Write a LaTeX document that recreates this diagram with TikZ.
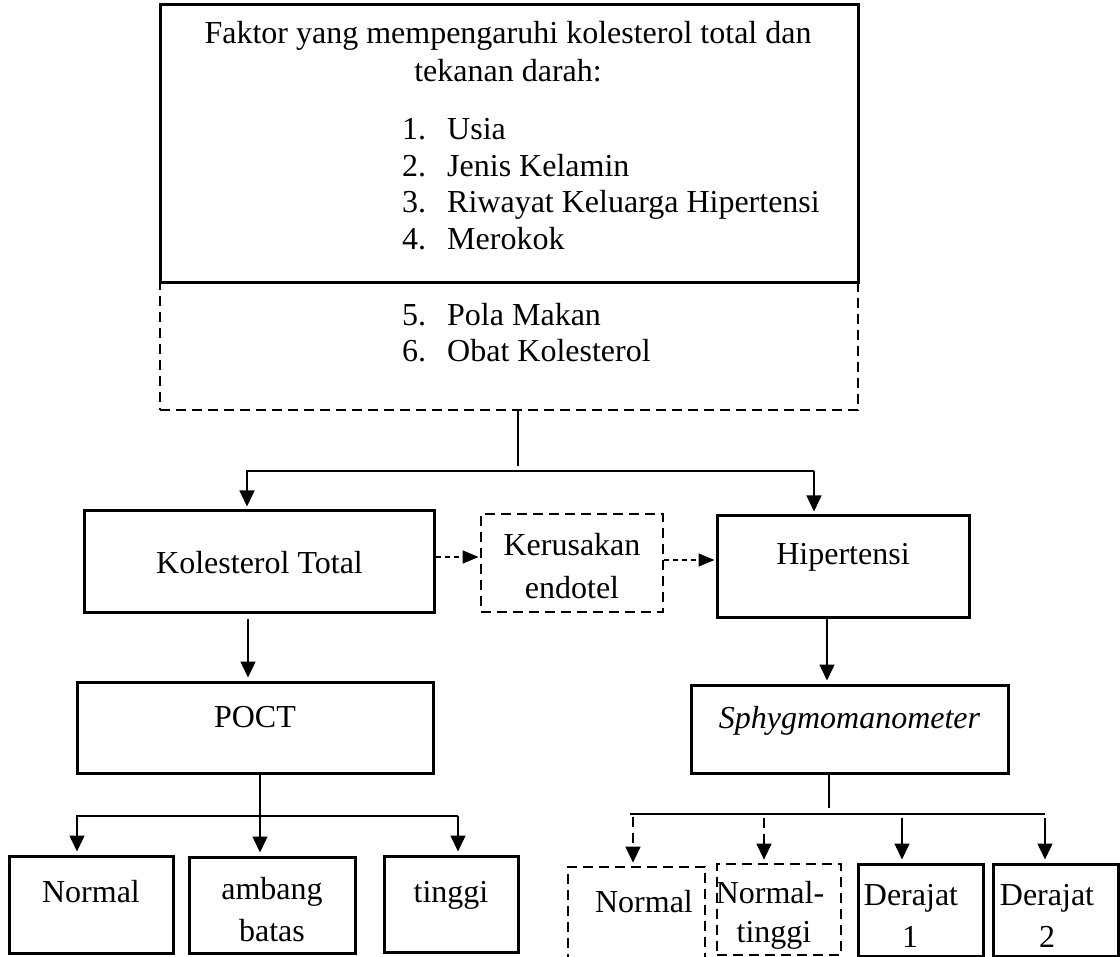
\documentclass[tikz,border=0pt]{standalone}
\usepackage{fontspec}
\setmainfont{Liberation Serif}
\usetikzlibrary{arrows.meta}
\begin{document}
\begin{tikzpicture}[x=1pt,y=-1pt,
  box/.style={draw, line width=3pt, inner sep=0pt},
  dbox/.style={box, line width=2.8pt, dash pattern=on 10pt off 6pt},
  conn/.style={line width=1.5pt},
  arr/.style={conn, -{Triangle[length=16pt,width=15pt]}, shorten >=3pt},
  darr/.style={arr, dash pattern=on 10pt off 6pt},
  sdarr/.style={conn, dash pattern=on 5pt off 4pt, -{Triangle[length=16pt,width=13pt]}, shorten >=1pt},
  txt/.style={inner sep=0pt, anchor=base, font=\fontsize{32}{37}\selectfont},
  itm/.style={txt, anchor=base west}
]
\useasboundingbox (0,0) rectangle (1120,957);
\clip (0,0) rectangle (1120,957);

% boxes
\node[dbox, minimum width=698pt, minimum height=127pt] (dsh) at (509,346.5) {};
\node[box, minimum width=698pt, minimum height=278pt] (top) at (509,144) {};
\node[box, minimum width=350pt, minimum height=101pt] (kt) at (259,561.5) {};
\node[dbox, minimum width=182pt, minimum height=98pt] (ker) at (572,563) {};
\node[box, minimum width=252pt, minimum height=101pt] (hip) at (843,566.5) {};
\node[box, minimum width=356pt, minimum height=91pt] (poct) at (255,727.5) {};
\node[box, minimum width=317pt, minimum height=88pt] (sph) at (849.5,729) {};
\node[box, minimum width=164pt, minimum height=97pt] (n1) at (91,904.5) {};
\node[box, minimum width=166pt, minimum height=96pt] (amb) at (272,905) {};
\node[box, minimum width=134pt, minimum height=96pt] (ting) at (451,904) {};
\node[dbox, minimum width=137pt, minimum height=103pt] (n2) at (636.5,918.5) {};
\node[dbox, minimum width=124pt, minimum height=91pt] (nt) at (779,909.5) {};
\node[box, minimum width=125pt, minimum height=92pt] (d1) at (920.5,910) {};
\node[box, minimum width=125pt, minimum height=92pt] (d2) at (1055.5,910) {};

% texts
\node[txt] (t1) at (508,44) {Faktor yang mempengaruhi kolesterol total dan};
\node[txt] (t2) at (508,82) {tekanan darah:};
\node[itm] (n1a) at (402,140) {1.};
\node[itm] (n2a) at (402,177) {2.};
\node[itm] (n3a) at (402,213) {3.};
\node[itm] (n4a) at (402,250) {4.};
\node[itm] (n5a) at (402,326) {5.};
\node[itm] (n6a) at (402,362) {6.};
\node[itm] (i1) at (447,140) {Usia};
\node[itm] (i2) at (447,177) {Jenis Kelamin};
\node[itm] (i3) at (447,213) {Riwayat Keluarga Hipertensi};
\node[itm] (i4) at (447,250) {Merokok};
\node[itm] (i5) at (447,326) {Pola Makan};
\node[itm] (i6) at (447,362) {Obat Kolesterol};

\node[txt] (ktt) at (259.5,573) {Kolesterol Total};
\node[txt] (kert1) at (572,555) {Kerusakan};
\node[txt] (kert2) at (572,598) {endotel};
\node[txt] (hipt) at (843,565) {Hipertensi};
\node[txt] (poctt) at (255,727) {POCT};
\node[txt] (spht) at (849.5,728) {\itshape Sphygmomanometer};
\node[txt] (n1t) at (91,902) {Normal};
\node[txt] (ambt1) at (272,899) {ambang};
\node[txt] (ambt2) at (272,941) {batas};
\node[txt] (tingt) at (451,902) {tinggi};
\node[txt] (n2t) at (644,912) {Normal};
\node[txt] (ntt1) at (770,903) {Normal-};
\node[txt] (ntt2) at (774,942) {tinggi};
\node[txt] (d1t1) at (911,905) {Derajat};
\node[txt] (d1t2) at (910,947) {1};
\node[txt] (d2t1) at (1047,905) {Derajat};
\node[txt] (d2t2) at (1047,947) {2};

% connectors top
\coordinate (tv) at (518,466);
\coordinate (hl) at (247,471);
\coordinate (hr) at (814,471);
\draw[conn] (dsh.south -| tv) -- (tv);
\draw[arr] (hr) -- (hl) -- (kt.north -| hl);
\draw[arr] (hr) -- (hip.north -| hr);

% side dashed arrows
\draw[sdarr] ([yshift=4.5pt]kt.east) -- ([yshift=4.5pt]kt.east -| ker.west);
\draw[sdarr] ([yshift=3pt]ker.east) -- ([yshift=3pt]ker.east -| hip.west);

% down arrows
\draw[arr, shorten <=5pt] ([xshift=-11pt]kt.south) -- ([xshift=-11pt]kt.south |- poct.north);
\draw[arr] ([xshift=-16pt]hip.south) -- ([xshift=-16pt]hip.south |- sph.north);

% left branch
\coordinate (pl) at (77,816);
\coordinate (pr) at (458,816);
\draw[arr] ([xshift=5pt]poct.south) -- ([xshift=5pt]poct.south |- amb.north);
\draw[arr] (pr) -- (pl) -- (pl |- n1.north);
\draw[arr] (pr) -- (pr |- ting.north);

% right branch
\coordinate (sv) at (829,808);
\coordinate (sl) at (630,814);
\coordinate (sr) at (1045,814);
\draw[conn] (sph.south -| sv) -- (sv);
\draw[conn] (sl) -- (sr);
\coordinate (a1) at (633,817);
\coordinate (a2) at (764,818);
\coordinate (a3) at (902,818);
\coordinate (a4) at (1045,818);
\draw[darr] (a1) -- (a1 |- n2.north);
\draw[darr] (a2) -- (a2 |- nt.north);
\draw[arr] (a3) -- (a3 |- d1.north);
\draw[arr] (a4) -- (a4 |- d2.north);
\end{tikzpicture}
\end{document}
